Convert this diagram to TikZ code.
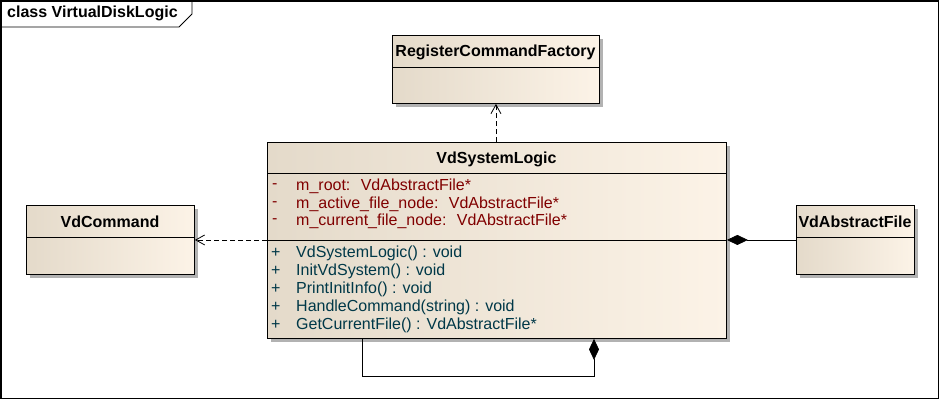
\documentclass[tikz,border=0pt]{standalone}
\usepackage{fontspec}
\setmainfont{Liberation Sans}
\usetikzlibrary{arrows.meta,positioning,calc,shapes,shadows}
\definecolor{boxleft}{RGB}{228,218,202}
\definecolor{boxright}{RGB}{252,243,231}
\definecolor{attrcol}{RGB}{128,0,0}
\definecolor{opcol}{RGB}{0,56,72}
\tikzset{
  classbox/.style={draw,line width=0.9pt,anchor=north west,inner sep=0pt,
    left color=boxleft,right color=boxright,
    drop shadow={shadow xshift=4pt,shadow yshift=-4pt,fill=black!30,opacity=1}},
  classname/.style={font=\bfseries\fontsize{16}{18}\selectfont,anchor=center},
  member/.style={anchor=west,inner sep=0pt},
  dep/.style={dashed,dash pattern=on 5pt off 3pt,line width=0.8pt,-{Straight Barb[length=9pt,width=10pt,line width=0.8pt]}},
  comp/.style={line width=0.8pt,{Diamond[length=21pt,width=10pt,fill=black]}-}
}

\begin{document}
\begin{tikzpicture}[x=1pt,y=-1pt,font=\fontsize{16}{18}\selectfont]
  \useasboundingbox (0,0) rectangle (940,400);

  % frame with name tab
  \draw[line width=1.2pt] (1,1) rectangle (938.5,398.5);
  \draw[line width=0.9pt] (1,27) -- (179,27) -- (192,14) -- (192,1);
  \node[font=\bfseries\fontsize{16}{18}\selectfont,anchor=west,inner sep=0pt] (frametitle) at (7,13) {class VirtualDiskLogic};

  % classes
  \node[classbox,minimum width=207pt,minimum height=68pt] (rcf) at (392,35) {};
  \node[classbox,minimum width=459pt,minimum height=196pt] (logic) at (267,142) {};
  \node[classbox,minimum width=168pt,minimum height=69pt] (cmd) at (26,205) {};
  \node[classbox,minimum width=118pt,minimum height=69pt] (absfile) at (796,205) {};

  % compartments
  \draw[line width=0.8pt] (392,67) -- (599,67);
  \draw[line width=0.8pt] (267,173) -- (726,173);
  \draw[line width=0.8pt] (267,240) -- (726,240);
  \draw[line width=0.8pt] (26,237) -- (194,237);
  \draw[line width=0.8pt] (796,237) -- (914,237);

  % class names
  \node[classname] (rcfname) at (495.5,52) {RegisterCommandFactory};
  \node[classname] (logicname) at (496.5,159) {VdSystemLogic};
  \node[classname] (cmdname) at (110,222) {VdCommand};
  \node[classname] (absfilename) at (855,222) {VdAbstractFile};

  % attributes
  \foreach \txt [count=\i] in {m\_root:~ VdAbstractFile*,
      m\_active\_file\_node:~ VdAbstractFile*,
      m\_current\_file\_node:~ VdAbstractFile*} {
    \node[member,text=attrcol] (vis\i) at (272,169+17.5*\i) {-};
    \node[member,text=attrcol] (attr\i) at (296,169+17.5*\i) {\txt};
  }

  % operations
  \foreach \txt [count=\i] in {VdSystemLogic() : void,
      InitVdSystem() : void,
      PrintInitInfo() : void,
      HandleCommand(string) : void,
      GetCurrentFile() : VdAbstractFile*} {
    \node[member,text=opcol] (pub\i) at (271,235+18*\i) {+};
    \node[member,text=opcol] (op\i) at (296,235+18*\i) {\txt};
  }

  % relations
  \draw[dep] (rcf.south |- logic.north) -- (rcf.south);
  \draw[dep] (cmd.east -| logic.west) -- (cmd.east);
  \draw[comp] (absfile.west -| logic.east) -- (absfile.west);
  \draw[comp] ($(logic.south west)+(327,0)$) -- ++(0,37) -| ($(logic.south west)+(95,0)$);
\end{tikzpicture}
\end{document}
